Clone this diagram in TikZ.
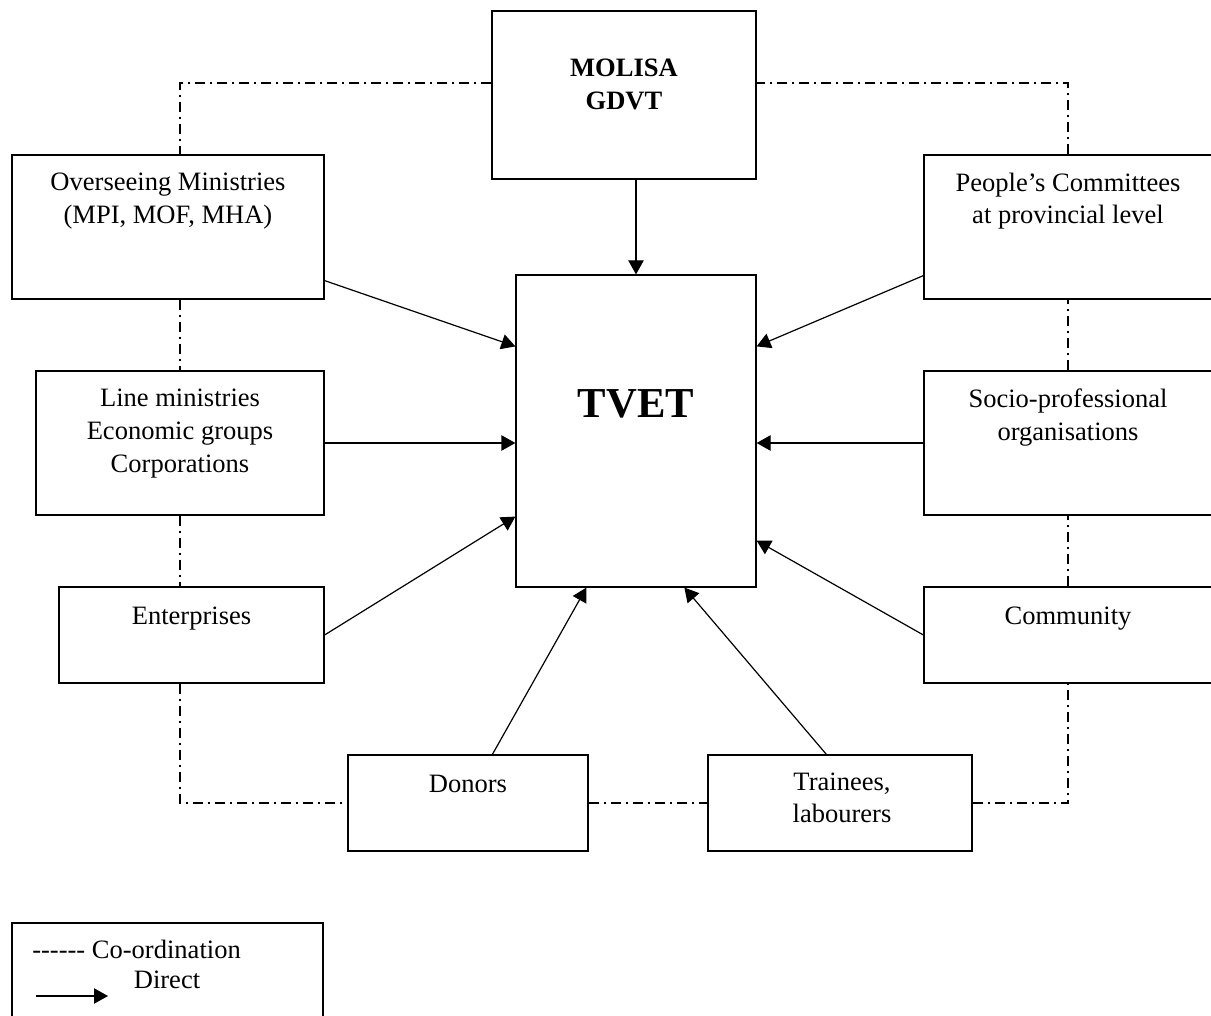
\documentclass[tikz,border=0pt]{standalone}
\usepackage{fontspec}
\setmainfont{Liberation Serif}
\usetikzlibrary{arrows.meta,calc,fit}

\tikzset{
  box/.style={draw, line width=0.9pt, inner sep=0pt},
  lbl/.style={anchor=north, inner sep=0pt, align=center, font=\fontsize{19.9}{24.5}\selectfont, execute at begin node=\strut},
  legtxt/.style={inner sep=0pt, font=\fontsize{19.9}{24.5}\selectfont},
  directarrow/.style={-{Triangle[length=10.5pt,width=11.5pt]}, line width=0.9pt},
  coordline/.style={line width=0.8pt, dash pattern=on 7.5pt off 3.75pt on 1.5pt off 3.75pt},
}

\begin{document}
\begin{tikzpicture}[x=0.75pt,y=0.75pt,yscale=-1,xscale=1]
    \useasboundingbox (0,0) rectangle (1211,1016);

    %Boxes
    \node[box, fit={(492,11) (756,179)}] (molisa) {};
    \node[box, fit={(516,275) (756,587)}] (tvet) {};
    \node[box, fit={(12,155) (324,299)}] (over) {};
    \node[box, fit={(924,155) (1212,299)}] (people) {};
    \node[box, fit={(36,371) (324,515)}] (line) {};
    \node[box, fit={(924,371) (1212,515)}] (socio) {};
    \node[box, fit={(59,587) (324,683)}] (enter) {};
    \node[box, fit={(924,587) (1212,683)}] (comm) {};
    \node[box, fit={(348,755) (588,851)}] (donors) {};
    \node[box, fit={(708,755) (972,851)}] (trainees) {};

    % Text Node
    \node[lbl, font=\fontsize{19.9}{24.5}\selectfont\bfseries] (molisatxt) at ($(molisa.north)+(0,48.5)$) {MOLISA\\GDVT};
    % Text Node
    \node[inner sep=0pt, font=\fontsize{32}{38}\selectfont\bfseries] (tvettxt) at ($(tvet.center)+(0,-27)$) {TVET};
    % Text Node
    \node[lbl] (overtxt) at ($(over.north)+(0,18.5)$) {Overseeing Ministries\\(MPI, MOF, MHA)};
    % Text Node
    \node[lbl] (peopletxt) at ($(people.north)+(0,18)$) {People’s Committees\\at provincial level};
    % Text Node
    \node[lbl] (linetxt) at ($(line.north)+(0,18.5)$) {Line ministries\\Economic groups\\Corporations};
    % Text Node
    \node[lbl] (sociotxt) at ($(socio.north)+(0,18.5)$) {Socio-professional\\organisations};
    % Text Node
    \node[lbl] (entertxt) at ($(enter.north)+(0,14.5)$) {Enterprises};
    % Text Node
    \node[lbl] (commtxt) at ($(comm.north)+(0,14.5)$) {Community};
    % Text Node
    \node[lbl] (donorstxt) at ($(donors.north)+(0,14.5)$) {Donors};
    % Text Node
    \node[lbl] (traineestxt) at ($(trainees.north)+(2,18)$) {Trainees,\\labourers};

    %Direct links
    \draw[directarrow] (tvet.north |- molisa.south) -- (tvet.north);
    \draw[directarrow] ($(over.south east)+(0,-19)$) -- ($(tvet.north west)+(0,72)$);
    \draw[directarrow] (line.east) -- (tvet.west |- line.east);
    \draw[directarrow] (enter.east) -- ($(tvet.south west)+(0,-71)$);
    \draw[directarrow] ($(donors.north west)+(145,0)$) -- ($(tvet.south west)+(71,0)$);
    \draw[directarrow] ($(trainees.north west)+(119,0)$) -- ($(tvet.south west)+(169,0)$);
    \draw[directarrow] (comm.west) -- ($(tvet.south east)+(0,-47)$);
    \draw[directarrow] (socio.west) -- (tvet.east |- socio.west);
    \draw[directarrow] ($(people.south west)+(0,-24)$) -- ($(tvet.north east)+(0,72)$);

    %Co-ordination links
    \coordinate (cornerTL) at (180,83);
    \coordinate (cornerTR) at (1068,83);
    \coordinate (cornerBL) at (180,803);
    \coordinate (cornerBR) at (1068,803);
    \draw[coordline] (molisa.west |- cornerTL) -- (cornerTL) -- (cornerTL |- over.north);
    \draw[coordline] (cornerTL |- over.south) -- (cornerTL |- line.north);
    \draw[coordline] (cornerTL |- line.south) -- (cornerTL |- enter.north);
    \draw[coordline] (cornerTL |- enter.south) -- (cornerBL) -- (donors.west);
    \draw[coordline] (donors.east) -- (trainees.west);
    \draw[coordline] (trainees.east) -- (cornerBR) -- (cornerBR |- comm.south);
    \draw[coordline] (cornerBR |- comm.north) -- (cornerBR |- socio.south);
    \draw[coordline] (cornerBR |- socio.north) -- (cornerBR |- people.south);
    \draw[coordline] (cornerBR |- people.north) -- (cornerTR) -- (molisa.east |- cornerTR);

    %Legend
    \node[box, fit={(12,923) (323,1030)}] (legend) {};
    \node[legtxt, anchor=base west] (coordkey) at (32,958) {-{}-{}-{}-{}-{}- Co-ordination};
    \node[legtxt, anchor=base] (directkey) at (167,988) {Direct};
    \coordinate (keyA) at (36,996);
    \coordinate (keyB) at (108,996);
    \draw[directarrow] (keyA) -- (keyB);

\end{tikzpicture}
\end{document}
